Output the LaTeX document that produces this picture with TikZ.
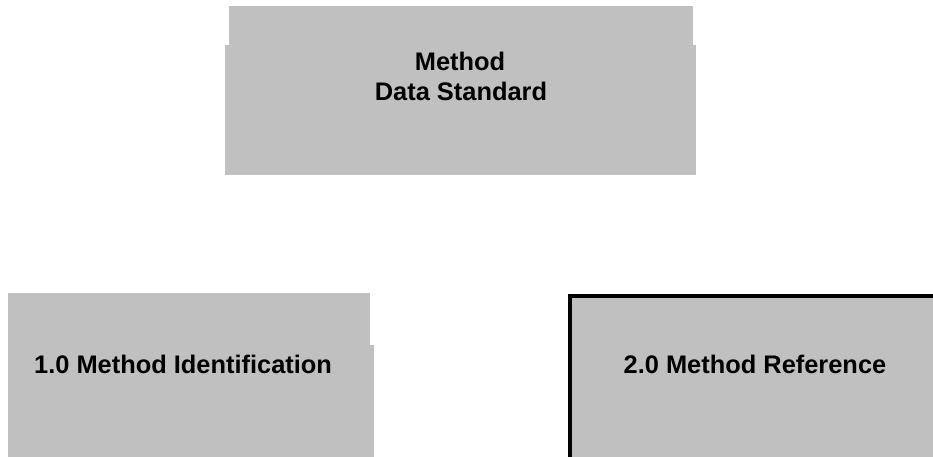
\documentclass[tikz,border=0pt]{standalone}
\usepackage{fontspec}
\setmainfont{Liberation Sans}
\definecolor{boxgray}{RGB}{192,192,192}
\tikzset{
  boxfill/.style={fill=boxgray, draw=none},
  lbl/.style={font=\fontsize{25.4}{31}\selectfont\bfseries, text=black, inner sep=0pt, align=center, anchor=base},
  edge/.style={draw=black, line width=4pt}
}
\begin{document}
\begin{tikzpicture}[x=1pt, y=-1pt]
\useasboundingbox (0,0) rectangle (933,457);
% top box (notched)
\fill[boxfill] (229,6) rectangle (693,46);
\fill[boxfill] (225,45) rectangle (696,175);
\node[lbl] (t1) at (460,70.5) {Method};
\node[lbl] (t2) at (461,101) {Data Standard};
% left box (notched)
\fill[boxfill] (8,293) rectangle (370,346);
\fill[boxfill] (8,345) rectangle (374,457);
\node[lbl, anchor=base west] (l1) at (34,373) {1.0 Method Identification};
% right box with black top/left edge
\fill[boxfill] (568,294) rectangle (933,457);
\draw[edge] (570,457) -- (570,296) -- (933,296);
\node[lbl] (r1) at (755,373) {2.0 Method Reference};
\end{tikzpicture}
\end{document}
